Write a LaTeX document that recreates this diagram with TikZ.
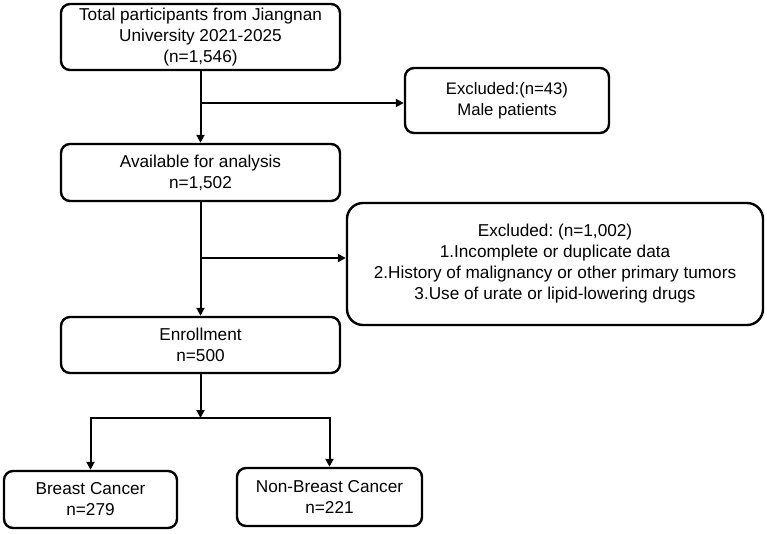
\documentclass[tikz,border=0pt]{standalone}
\usepackage{fontspec}
\setmainfont{Liberation Sans}
\usetikzlibrary{arrows.meta}
\frenchspacing

\begin{document}
\begin{tikzpicture}[x=1pt, y=-1pt,
  box/.style={draw, line width=2.4pt, rounded corners=9pt, align=center, inner sep=0pt, font=\fontsize{17.2}{21}\selectfont},
  arr/.style={line width=2pt, -{Triangle[length=8pt,width=8pt]}}]
\useasboundingbox (0,0) rectangle (767,533);
\node[box, minimum width=279pt, minimum height=66pt] (total) at (200.5,37) {Total participants from Jiangnan\\University 2021-2025\\(n=1,546)};
\node[box, minimum width=204pt, minimum height=65pt, font=\fontsize{16.7}{21}\selectfont] (excl1) at (507,100.5) {Excluded:(n=43)\\Male patients};
\node[box, minimum width=279pt, minimum height=57pt] (avail) at (200.5,172.5) {Available for analysis\\n=1,502};
\node[box, minimum width=416pt, minimum height=122pt, rounded corners=16pt] (excl2) at (555,264) {Excluded: (n=1,002)\\1.Incomplete or duplicate data\\2.History of malignancy or other primary tumors\\3.Use of urate or lipid-lowering drugs};
\node[box, minimum width=279pt, minimum height=56pt] (enroll) at (200.5,345) {Enrollment\\n=500};
\node[box, minimum width=173pt, minimum height=57pt] (breast) at (90.5,499.5) {Breast Cancer\\n=279};
\node[box, minimum width=185pt, minimum height=58pt] (nonbreast) at (329.5,497) {Non-Breast Cancer\\n=221};
% branch points
\coordinate (b1) at (200.5,103);
\coordinate (b2) at (200.5,258);
\coordinate (split) at (200.5,418);
\draw[arr] (total) -- (avail);
\draw[arr] (b1) -- (b1 -| excl1.west);
\draw[arr] (avail) -- (enroll);
\draw[arr] (b2) -- (b2 -| excl2.west);
\draw[arr] (enroll) -- (split);
\draw[arr] (split) -| (breast);
\draw[arr] (split) -| (nonbreast);
\end{tikzpicture}
\end{document}
